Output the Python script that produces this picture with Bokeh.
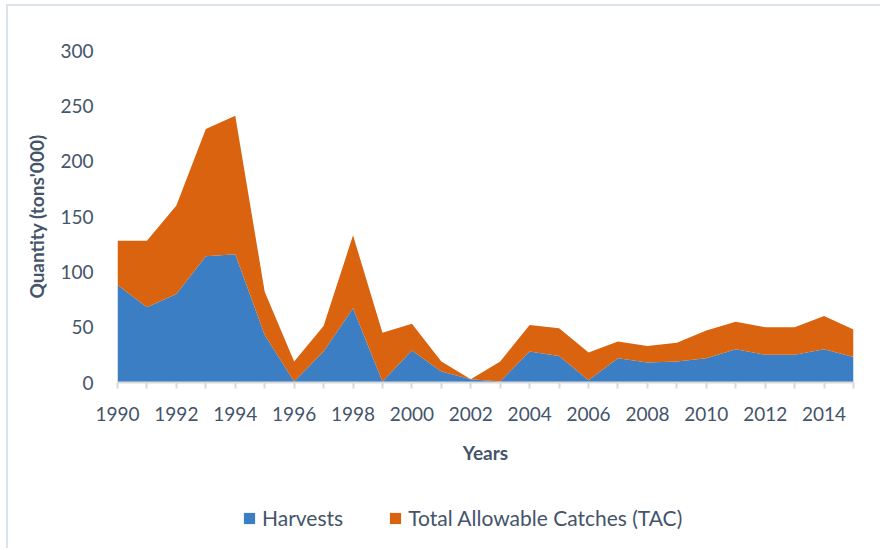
from bokeh.plotting import figure
from bokeh.layouts import column
from bokeh.models import Range1d, FixedTicker, Legend, LegendItem, ColumnDataSource
from bokeh.embed import file_html
from bokeh.resources import INLINE

years = list(range(1990, 2016))
harvests = [88, 68, 80, 114, 116, 43, 1, 28, 67, 1, 29, 10, 3, 1, 28, 24, 2, 22, 18, 19, 22, 30, 25, 25, 30, 23]
tac = [40, 60, 80, 115, 125, 39, 18, 23, 66, 44, 24, 9, 0, 18, 24, 25, 25, 15, 15, 17, 25, 25, 25, 25, 30, 25]
series_names = ["Harvests", "Total Allowable Catches (TAC)"]
colors = ["#3b7ec3", "#d9630f"]

total = [h + t for h, t in zip(harvests, tac)]
src = ColumnDataSource(dict(x=years, h=harvests, total=total, zero=[0] * len(years)))

TXT = "#44546a"
FONT = "Lato"

p = figure(width=880, height=472, output_backend="svg", toolbar_location=None,
           x_range=Range1d(1990, 2015), y_range=Range1d(0, 300),
           min_border_left=117, min_border_right=27, min_border_top=50, min_border_bottom=90)
p.border_fill_color = None

p.varea(x="x", y1="zero", y2="h", source=src, fill_color=colors[0])
p.varea(x="x", y1="h", y2="total", source=src, fill_color=colors[1])

p.outline_line_color = None
p.grid.visible = False

# x axis
xa = p.xaxis[0]
xa.ticker = FixedTicker(ticks=years)
xa.major_label_overrides = {y: ("" if y % 2 else str(y)) for y in years}
xa.axis_line_color = "#d9d9d9"
xa.axis_line_width = 2
xa.major_tick_line_color = "#d9d9d9"
xa.major_tick_line_width = 2
xa.major_tick_in = 0
xa.major_tick_out = 6
xa.minor_tick_line_color = None
xa.major_label_standoff = 18
xa.major_label_text_font = FONT
xa.major_label_text_font_size = "19px"
xa.major_label_text_color = TXT
xa.axis_label = "Years"
xa.axis_label_text_font = FONT
xa.axis_label_text_font_size = "19px"
xa.axis_label_text_font_style = "bold"
xa.axis_label_text_color = TXT
xa.axis_label_standoff = 17

# y axis
ya = p.yaxis[0]
ya.ticker = FixedTicker(ticks=[0, 50, 100, 150, 200, 250, 300])
ya.axis_line_color = None
ya.major_tick_line_color = None
ya.minor_tick_line_color = None
ya.major_label_standoff = 18
ya.major_label_text_font = FONT
ya.major_label_text_font_size = "19px"
ya.major_label_text_color = TXT
ya.axis_label = "Quantity (tons'000)"
ya.axis_label_text_font = FONT
ya.axis_label_text_font_size = "19px"
ya.axis_label_text_font_style = "bold"
ya.axis_label_text_color = TXT
ya.axis_label_standoff = 9

# legend strip
p2 = figure(width=880, height=76, output_backend="svg", toolbar_location=None,
            x_range=Range1d(0, 1), y_range=Range1d(0, 1),
            x_axis_location=None, y_axis_location=None,
            min_border_left=0, min_border_right=0, min_border_top=0, min_border_bottom=0)
p2.border_fill_color = None
p2.background_fill_color = None
p2.grid.visible = False
p2.outline_line_color = None
lr = [p2.varea(x=[5, 6], y1=[5, 5], y2=[6, 6], fill_color=c) for c in colors]
legend = Legend(items=[LegendItem(label=n, renderers=[r]) for n, r in zip(series_names, lr)],
                orientation="horizontal", location=(125, 18),
                label_text_font=FONT, label_text_font_size="21px", label_text_color=TXT,
                glyph_width=14, glyph_height=14, spacing=45, padding=0, margin=0,
                label_standoff=6, border_line_color=None, background_fill_alpha=0)
p2.add_layout(legend, "center")

layout = column(p, p2, spacing=0)
layout.styles = {"box-shadow": "inset 6px 4px 0 white, inset 8px 6px 0 #dde3ea",
                 "background-color": "white"}
open("out.html", "w").write(file_html(layout, INLINE))
